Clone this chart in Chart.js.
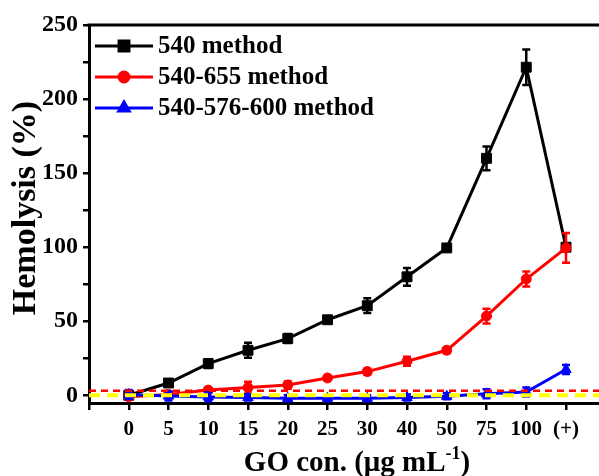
<!DOCTYPE html>
<html>
<head>
<meta charset="utf-8">
<script src="https://cdn.jsdelivr.net/npm/chart.js@4/dist/chart.umd.min.js"></script>
<style>
    html, body { margin: 0; padding: 0; background: #fff; }
    #wrap { width: 599px; height: 476px; }
</style>
</head>
<body>
<div id="wrap"><canvas id="chartHemolysis"></canvas></div>
<script>
const concentrations = ['0', '5', '10', '15', '20', '25', '30', '40', '50', '75', '100', '(+)'];
const yTicks = [0, 25, 50, 75, 100, 125, 150, 175, 200, 225, 250];

const method540 = [0, 8.3, 21.4, 30.4, 38.3, 51, 60.5, 80, 99.5, 160, 221.5, 100];
const method540Err = [1, 1.5, 3, 5, 3, 1.5, 5, 6, 2, 8, 12, 0];

const method540655 = [-1, 0.5, 3.5, 5.2, 7, 11.7, 16, 23, 30.4, 53.5, 78.5, 99.5];
const method540655Err = [2, 2, 2, 4, 2.5, 1.5, 2, 3, 2, 5, 5, 10];

const method540576600 = [0.5, -0.5, -1.1, -1.5, -2, -2, -2, -1.5, -0.7, 1, 2.2, 17.4];
const method540576600Err = [3, 3, 3, 2, 2, 2, 2, 2, 2, 3, 3, 3];

const redThreshold = 3;
const yellowBaseline = 0;

const yMin = -5.2;
const yMax = 250;
const xMin = -1;
const xMax = 11.83;

const palette = {
    black: '#000000',
    red: '#FF0000',
    blue: '#0000FF',
    yellow: '#FFFF00',
};

const serif = "'Times New Roman', 'Liberation Serif', serif";

const toPoints = (values) => values.map((y, i) => ({ x: i, y }));

const series = [
    { label: '540 method', data: method540, err: method540Err, color: palette.black, pointStyle: 'rect', radius: 7 },
    { label: '540-655 method', data: method540655, err: method540655Err, color: palette.red, pointStyle: 'circle', radius: 5 },
    { label: '540-576-600 method', data: method540576600, err: method540576600Err, color: palette.blue, pointStyle: 'triangle', radius: 6 },
];

const decorations = {
    id: 'decorations',
    afterDatasetDraw(chart, args) {
        const s = series[args.index];
        if (!s) {
            return;
        }
        const { ctx, chartArea, scales: { x, y } } = chart;
        ctx.save();
        ctx.beginPath();
        ctx.rect(chartArea.left, chartArea.top, chartArea.right - chartArea.left, chartArea.bottom - chartArea.top);
        ctx.clip();
        ctx.strokeStyle = s.color;
        ctx.lineWidth = 2.5;
        s.data.forEach((v, i) => {
            const e = s.err[i];
            if (!e) {
                return;
            }
            const px = x.getPixelForValue(i);
            const top = y.getPixelForValue(v + e);
            const bottom = y.getPixelForValue(v - e);
            ctx.beginPath();
            ctx.moveTo(px, top);
            ctx.lineTo(px, bottom);
            ctx.moveTo(px - 4, top);
            ctx.lineTo(px + 4, top);
            ctx.moveTo(px - 4, bottom);
            ctx.lineTo(px + 4, bottom);
            ctx.stroke();
        });
        ctx.restore();
    },
    afterDraw(chart) {
        const { ctx, chartArea } = chart;
        ctx.save();

        // top frame line
        ctx.strokeStyle = palette.black;
        ctx.lineWidth = 3;
        ctx.beginPath();
        ctx.moveTo(chartArea.left - 1.5, chartArea.top);
        ctx.lineTo(chartArea.right, chartArea.top);
        ctx.stroke();

        // legend
        const rows = [46, 77, 108];
        series.forEach((s, i) => {
            const yy = rows[i];
            ctx.strokeStyle = s.color;
            ctx.fillStyle = s.color;
            ctx.lineWidth = 3;
            ctx.beginPath();
            ctx.moveTo(95, yy);
            ctx.lineTo(153, yy);
            ctx.stroke();
            Chart.helpers.drawPoint(ctx, { pointStyle: s.pointStyle, radius: s.radius, borderWidth: 1 }, 124, yy);
            ctx.fill();
            ctx.fillStyle = palette.black;
            ctx.font = `bold 25px ${serif}`;
            ctx.textAlign = 'left';
            ctx.textBaseline = 'middle';
            ctx.fillText(s.label, 158, yy + 1);
        });

        // y title
        ctx.fillStyle = palette.black;
        ctx.save();
        ctx.translate(26, 208);
        ctx.rotate(-Math.PI / 2);
        ctx.font = `bold 34px ${serif}`;
        ctx.textAlign = 'center';
        ctx.textBaseline = 'middle';
        ctx.fillText('Hemolysis (%)', 0, 0);
        ctx.restore();

        // x title with superscript
        const main = 'GO con. (\u03bcg mL';
        const sup = '-1';
        const tail = ')';
        ctx.textBaseline = 'alphabetic';
        ctx.textAlign = 'left';
        ctx.font = `bold 29px ${serif}`;
        const wMain = ctx.measureText(main).width;
        const wTail = ctx.measureText(tail).width;
        ctx.font = `bold 18px ${serif}`;
        const wSup = ctx.measureText(sup).width;
        let xx = 357 - (wMain + wSup + wTail) / 2;
        const base = 471;
        ctx.font = `bold 29px ${serif}`;
        ctx.fillText(main, xx, base);
        xx += wMain;
        ctx.font = `bold 18px ${serif}`;
        ctx.fillText(sup, xx, base - 12);
        xx += wSup;
        ctx.font = `bold 29px ${serif}`;
        ctx.fillText(tail, xx, base);

        ctx.restore();
    },
};

new Chart(document.getElementById('chartHemolysis'), {
    type: 'line',
    data: {
        datasets: [
            ...series.map((s, i) => ({
                label: s.label,
                data: toPoints(s.data),
                borderColor: s.color,
                backgroundColor: s.color,
                borderWidth: 3,
                pointStyle: s.pointStyle,
                pointRadius: s.radius,
                pointBorderWidth: 1,
                order: 3 - i,
            })),
            {
                label: 'threshold',
                data: [{ x: xMin, y: redThreshold }, { x: xMax, y: redThreshold }],
                borderColor: palette.red,
                borderWidth: 2.5,
                borderDash: [7, 5],
                pointRadius: 0,
                order: 0,
            },
            {
                label: 'baseline',
                data: [{ x: xMin, y: yellowBaseline }, { x: xMax, y: yellowBaseline }],
                borderColor: palette.yellow,
                borderWidth: 4,
                borderDash: [11, 7],
                pointRadius: 0,
                order: 0,
            },
        ],
    },
    options: {
        responsive: true,
        maintainAspectRatio: false,
        animation: false,
        layout: { autoPadding: false, padding: { top: 25, left: 0, right: 0, bottom: 0 } },
        plugins: {
            legend: { display: false },
            tooltip: { enabled: false },
        },
        scales: {
            x: {
                type: 'linear',
                min: xMin,
                max: xMax,
                afterFit: (scale) => {
                    scale.height = 73;
                    scale.paddingLeft = 0;
                    scale.paddingRight = 0;
                },
                afterBuildTicks: (scale) => {
                    scale.ticks = [-1, ...concentrations.map((_, i) => i)].map((value) => ({ value }));
                },
                ticks: {
                    autoSkip: false,
                    maxRotation: 0,
                    color: palette.black,
                    padding: 7,
                    font: { family: serif, size: 21, weight: 'bold' },
                    callback: (value) => concentrations[value] ?? '',
                },
                grid: {
                    drawOnChartArea: false,
                    drawTicks: true,
                    tickLength: 7,
                    color: palette.black,
                    lineWidth: 2.5,
                },
                border: { display: true, color: palette.black, width: 3 },
            },
            y: {
                min: yMin,
                max: yMax,
                afterFit: (scale) => {
                    scale.width = 89;
                    scale.paddingTop = 0;
                    scale.paddingBottom = 0;
                },
                afterBuildTicks: (scale) => {
                    scale.ticks = yTicks.map((value) => ({ value }));
                },
                ticks: {
                    autoSkip: false,
                    color: palette.black,
                    padding: 5,
                    font: { family: serif, size: 24, weight: 'bold' },
                    callback: (value) => (value % 50 === 0 ? value : ''),
                },
                grid: {
                    drawOnChartArea: false,
                    drawTicks: true,
                    tickLength: 6,
                    color: palette.black,
                    lineWidth: 2.5,
                },
                border: { display: true, color: palette.black, width: 3 },
            },
        },
    },
    plugins: [decorations],
});
</script>
</body>
</html>
